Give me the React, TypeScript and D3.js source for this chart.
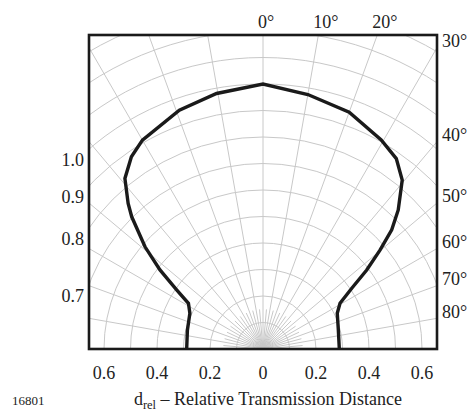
import React from 'react';
import * as d3 from 'd3';

// Curve: angle (deg, negative = left side) and relative transmission distance
const curveAngles = [-90, -76, -64, -58.5, -55.6, -52.5, -49.1, -44.8, -42.8, -39, -34.4, -30, -19.3, -10.3, 0,
  10, 20, 29.5, 35, 39.5, 44.2, 47.2, 49.8, 52.7, 55.6, 59.3, 64.3, 76, 90];
const curveValues = [0.288, 0.294, 0.307, 0.33, 0.394, 0.49, 0.589, 0.703, 0.749, 0.828, 0.879, 0.91, 0.955, 0.98, 1.0,
  0.975, 0.951, 0.906, 0.877, 0.826, 0.732, 0.662, 0.578, 0.492, 0.406, 0.338, 0.311, 0.293, 0.288];

const xTickValues = [-0.6, -0.4, -0.2, 0, 0.2, 0.4, 0.6];
const topAngleLabels = [0, 10, 20];
const rightAngleLabels = [30, 40, 50, 60, 70, 80];
const leftValueLabels = [1.0, 0.9, 0.8, 0.7];
const circleValues = [0.1, 0.2, 0.3, 0.4, 0.5, 0.6, 0.7, 0.8, 0.9, 1.0, 1.1, 1.2, 1.3, 1.4];
const majorSpokes = [-90, -80, -70, -60, -50, -40, -30, -20, -10, 0, 10, 20, 30, 40, 50, 60, 70, 80, 90];
const minorSpokes = [-85, -75, -65, -55, -45, -35, -25, -15, -5, 5, 15, 25, 35, 45, 55, 65, 75, 85];

const W = 469, H = 412;
const cx = 263, cy = 349;
const unit = 265;
const left = 89, right = 437, top = 35, bottom = 349;
const FONT = '"Liberation Serif", "Times New Roman", serif';

export default function App() {
  const r = d3.scaleLinear().domain([0, 1]).range([0, unit]);
  const x = d3.scaleLinear().domain([-1, 1]).range([cx - unit, cx + unit]);
  const rad = (a: number) => (a * Math.PI) / 180;
  const pt = (a: number, d: number): [number, number] => [cx + r(d) * Math.sin(rad(a)), cy - r(d) * Math.cos(rad(a))];

  const pts = curveAngles.map((a, i) => pt(a, curveValues[i]));
  const line = d3.line().curve(d3.curveLinear)(pts) || '';
  const halfW = right - cx;
  const far = 2;

  return (
    <svg width={W} height={H} style={{ position: 'absolute', left: 0, top: 0, background: '#fff' }} fontFamily={FONT}>
      <defs>
        <clipPath id="box">
          <rect x={left} y={top} width={right - left} height={bottom - top} />
        </clipPath>
      </defs>
      <g clipPath="url(#box)" stroke="#c8c8c8" strokeWidth={1} fill="none">
        {circleValues.map((c) => (
          <circle key={'c' + c} cx={cx} cy={cy} r={r(c)} />
        ))}
        {majorSpokes.map((a) => {
          const [x2, y2] = pt(a, far);
          return <line key={'s' + a} x1={cx} y1={cy} x2={x2} y2={y2} />;
        })}
        {minorSpokes.map((a) => {
          const [x2, y2] = pt(a, 0.15);
          return <line key={'m' + a} x1={cx} y1={cy} x2={x2} y2={y2} />;
        })}
      </g>
      <path d={line} fill="none" stroke="#1a1a1a" strokeWidth={3.4} strokeLinejoin="miter" />
      <rect x={left} y={top} width={right - left} height={bottom - top} fill="none" stroke="#1a1a1a" strokeWidth={2.6} />

      {topAngleLabels.map((a) => (
        <text key={'t' + a} x={cx + (cy - top) * Math.tan(rad(a)) - 5} y={28} fontSize={18} fill="#222">
          {a}°
        </text>
      ))}
      {rightAngleLabels.map((a) => (
        <text key={'ra' + a} x={442} y={cy - halfW / Math.tan(rad(a)) - 7} dy="0.35em" fontSize={18} fill="#222">
          {a}°
        </text>
      ))}
      {leftValueLabels.map((v) => (
        <text key={'l' + v} x={84} y={cy - Math.sqrt(r(v) ** 2 - halfW ** 2) + 11} dy="0.35em" textAnchor="end" fontSize={18} fill="#222">
          {v.toFixed(1)}
        </text>
      ))}
      {xTickValues.map((v) => (
        <text key={'x' + v} x={x(v)} y={379} textAnchor="middle" fontSize={18} fill="#222">
          {v === 0 ? '0' : Math.abs(v).toFixed(1)}
        </text>
      ))}
      <text x={268} y={405} textAnchor="middle" fontSize={18} fill="#222">
        d<tspan fontSize={12.5} dy={4}>rel</tspan>
        <tspan dy={-4}> – Relative Transmission Distance</tspan>
      </text>
      <text x={12} y={405} fontSize={13} fill="#222">16801</text>
    </svg>
  );
}
